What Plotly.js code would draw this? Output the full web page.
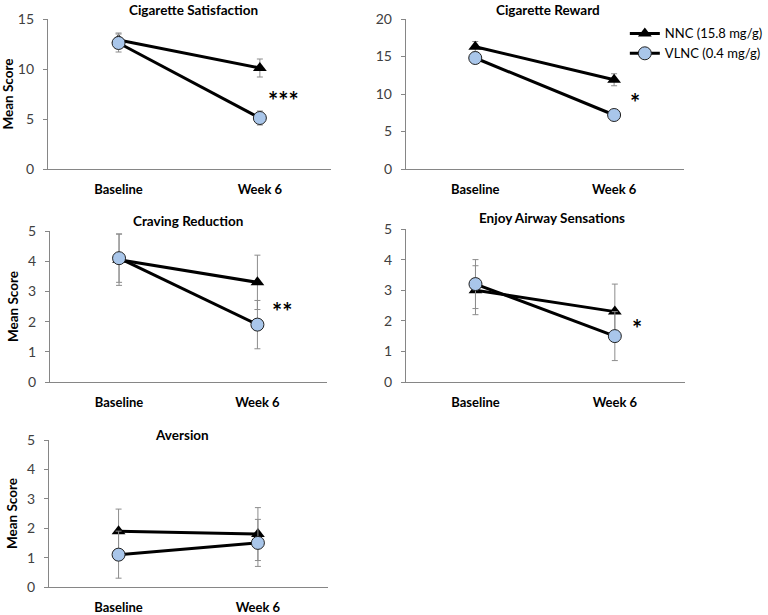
<!DOCTYPE html>
<html>
<head>
<meta charset="utf-8">
<script src="https://cdn.plot.ly/plotly-3.0.1.min.js"></script>
<style>html,body{margin:0;padding:0;background:#fff;}#chart{width:768px;height:615px;}</style>
</head>
<body>
<div id="chart"></div>
<script>
// ---- data ----
const categories = ['Baseline', 'Week 6'];
const panelTitles = ['Cigarette Satisfaction', 'Cigarette Reward', 'Craving Reduction', 'Enjoy Airway Sensations', 'Aversion'];
const seriesNames = ['NNC (15.8 mg/g)', 'VLNC (0.4 mg/g)'];
const significance = ['***', '*', '**', '*', ''];

const satNNC = [12.9, 10.1], satNNCErr = [0.7, 0.9];
const satVLNC = [12.6, 5.1], satVLNCErr = [0.9, 0.7];
const rewNNC = [16.3, 11.9], rewNNCErr = [0.7, 0.8];
const rewVLNC = [14.8, 7.2], rewVLNCErr = [0.6, 0.6];
const cravNNC = [4.05, 3.3], cravNNCErr = [0.85, 0.9];
const cravVLNC = [4.1, 1.9], cravVLNCErr = [0.8, 0.8];
const airNNC = [3.0, 2.3], airNNCErr = [0.8, 0.9];
const airVLNC = [3.2, 1.5], airVLNCErr = [0.8, 0.8];
const aveNNC = [1.9, 1.8], aveNNCErr = [0.75, 0.9];
const aveVLNC = [1.1, 1.5], aveVLNCErr = [0.8, 0.8];

const yMax = [15, 20, 5, 5, 5];
const yStep = [5, 5, 1, 1, 1];

const nncData = [satNNC, rewNNC, cravNNC, airNNC, aveNNC];
const nncErr = [satNNCErr, rewNNCErr, cravNNCErr, airNNCErr, aveNNCErr];
const vlncData = [satVLNC, rewVLNC, cravVLNC, airVLNC, aveVLNC];
const vlncErr = [satVLNCErr, rewVLNCErr, cravVLNCErr, airVLNCErr, aveVLNCErr];

// ---- layout geometry (pixels) ----
const W = 768, H = 615;
const boxes = [
  {x0: 49, x1: 338, y0: 19, y1: 169},
  {x0: 415, x1: 699, y0: 19, y1: 169},
  {x0: 51, x1: 334, y0: 231, y1: 382},
  {x0: 415, x1: 700, y0: 229, y1: 382},
  {x0: 50, x1: 335, y0: 440, y1: 587}
];
const titleCenters = [[198, 10], [560, 10], [192, 221], [564, 218], [186, 435]];
const showYTitle = [true, false, true, false, true];
const sigPos = [[1.17, 6.9], [1.15, 8.9], [1.18, 2.35], [1.16, 1.76], null];

const FONT = 'Lato, "Open Sans", sans-serif';
const traces = [];
const layout = {
  width: W, height: H,
  margin: {l: 0, r: 0, t: 0, b: 0},
  paper_bgcolor: '#fff', plot_bgcolor: '#fff',
  showlegend: true,
  legend: {x: 0.832, y: 0.97, xanchor: 'left', yanchor: 'top', font: {family: FONT, size: 13, color: '#000'},
           bgcolor: 'rgba(0,0,0,0)', tracegroupgap: 0, itemwidth: 30},
  annotations: []
};

panelTitles.forEach((t, i) => {
  const n = i === 0 ? '' : String(i + 1);
  const b = boxes[i];
  const errStyle = {type: 'data', visible: true, color: '#8c8c8c', thickness: 1, width: 3};
  traces.push({
    type: 'scatter', mode: 'lines+markers', name: seriesNames[0],
    x: categories, y: nncData[i], xaxis: 'x' + n, yaxis: 'y' + n,
    error_y: Object.assign({array: nncErr[i]}, errStyle),
    line: {color: '#000', width: 3},
    marker: {symbol: 'triangle-up', size: 12, color: '#000'},
    showlegend: i === 1, legendgroup: 'nnc', cliponaxis: false
  });
  traces.push({
    type: 'scatter', mode: 'lines+markers', name: seriesNames[1],
    x: categories, y: vlncData[i], xaxis: 'x' + n, yaxis: 'y' + n,
    error_y: Object.assign({array: vlncErr[i]}, errStyle),
    line: {color: '#000', width: 3},
    marker: {symbol: 'circle', size: 13, color: '#a9c6ea', line: {color: '#222', width: 1}},
    showlegend: i === 1, legendgroup: 'vlnc', cliponaxis: false
  });
  layout['xaxis' + n] = {
    domain: [b.x0 / W, b.x1 / W], anchor: 'y' + n,
    type: 'category', range: [-0.5, 1.5],
    showline: true, linecolor: '#868686', linewidth: 1,
    showgrid: false, zeroline: false, ticks: '',
    tickfont: {family: FONT, size: 13, color: '#000', weight: 'bold'}, ticklabelstandoff: 8,
    fixedrange: true
  };
  layout['yaxis' + n] = {
    domain: [1 - b.y1 / H, 1 - b.y0 / H], anchor: 'x' + n,
    range: [0, yMax[i]], dtick: yStep[i], tick0: 0,
    showline: true, linecolor: '#868686', linewidth: 1,
    showgrid: false, zeroline: false, ticks: 'outside', ticklen: 4, tickcolor: '#868686',
    tickfont: {family: FONT, size: 14, color: '#404040'}, ticklabelstandoff: 6,
    title: showYTitle[i] ? {text: 'Mean Score', font: {family: FONT, size: 13.5, color: '#000', weight: 'bold'}, standoff: 6} : {text: ''},
    fixedrange: true
  };
  layout.annotations.push({
    text: t, xref: 'paper', yref: 'paper',
    x: titleCenters[i][0] / W, y: 1 - titleCenters[i][1] / H, xanchor: 'center', yanchor: 'middle',
    showarrow: false, font: {family: FONT, size: 13.5, color: '#000', weight: 'bold'}
  });
  if (sigPos[i]) {
    layout.annotations.push({
      text: significance[i], xref: 'x' + n, yref: 'y' + n, x: sigPos[i][0], y: sigPos[i][1],
      xanchor: 'center', yanchor: 'middle', showarrow: false,
      font: {family: FONT, size: 24, color: '#000', weight: 'bold'}
    });
  }
});

Plotly.newPlot('chart', traces, layout, {displayModeBar: false, staticPlot: true});
</script>
</body>
</html>
